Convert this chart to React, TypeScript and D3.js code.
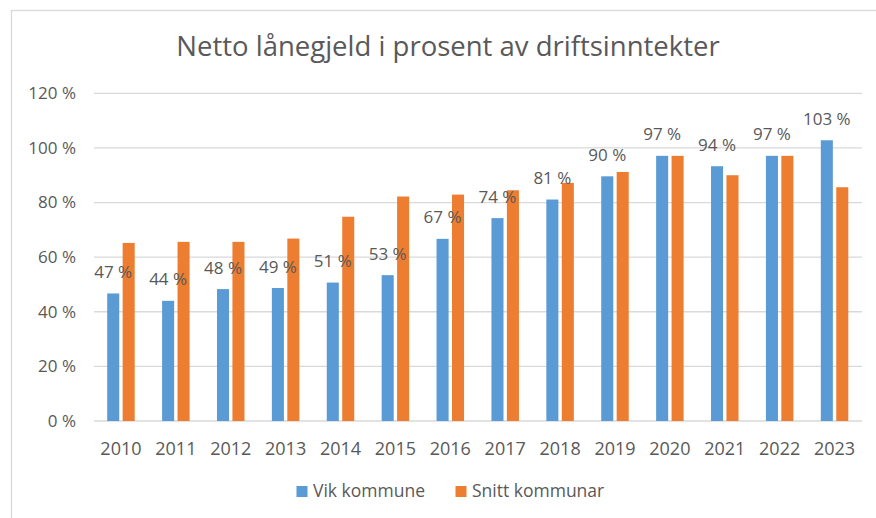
import React from "react";
import * as d3 from "d3";

const years = ["2010","2011","2012","2013","2014","2015","2016","2017","2018","2019","2020","2021","2022","2023"];
const vikValues = [46.7, 44.0, 48.3, 48.7, 50.7, 53.4, 66.7, 74.3, 81.1, 89.6, 97.1, 93.3, 97.1, 102.8];
const vikLabels = ["47 %","44 %","48 %","49 %","51 %","53 %","67 %","74 %","81 %","90 %","97 %","94 %","97 %","103 %"];
const snittValues = [65.2, 65.6, 65.6, 66.8, 74.8, 82.2, 82.9, 84.5, 87.2, 91.2, 97.1, 90.0, 97.1, 85.6];
const seriesNames = ["Vik kommune", "Snitt kommunar"];
const yTicks = [0, 20, 40, 60, 80, 100, 120];
const title = "Netto lånegjeld i prosent av driftsinntekter";

const W = 876, H = 518;
const colors = ["#5B9BD5", "#ED7D31"];
const textColor = "#595959";
const font = "'Open Sans', sans-serif";

export default function App() {
  const x0 = d3.scaleBand<string>().domain(years).range([93.5, 862]).padding(0);
  const groupW = 27.5;
  const x1 = d3.scaleBand<string>().domain(seriesNames).range([0, groupW]).paddingInner(0.22);
  const y = d3.scaleLinear().domain([0, 120]).range([421, 93.3]);
  const gx = (yr: string) => (x0(yr) as number) + x0.bandwidth() / 2 - groupW / 2;
  const data = [vikValues, snittValues];

  return (
    <svg width={W} height={H} style={{ position: "absolute", left: 0, top: 0, background: "#fff" }} fontFamily={font}>
      <rect x={0} y={0} width={W} height={H} fill="#fff" />
      <rect x={11.5} y={10.5} width={1000} height={1000} fill="#fff" stroke="#D9D9D9" strokeWidth={1.3} />
      <text x={448} y={56} textAnchor="middle" fontSize={27.5} fill={textColor}>{title}</text>
      {yTicks.map((t) => (
        <g key={t}>
          <line x1={94} x2={862} y1={y(t)} y2={y(t)} stroke="#D9D9D9" strokeWidth={1.3} />
          <text x={76} y={y(t)} dy="0.35em" textAnchor="end" fontSize={17} fill={textColor}>{`${t} %`}</text>
        </g>
      ))}
      {data.map((vals, si) =>
        years.map((yr, i) => (
          <rect
            key={`${si}-${yr}`}
            x={gx(yr) + (x1(seriesNames[si]) as number)}
            y={y(vals[i])}
            width={x1.bandwidth()}
            height={y(0) - y(vals[i])}
            fill={colors[si]}
          />
        ))
      )}
      {years.map((yr, i) => (
        <text
          key={`lab-${yr}`}
          x={gx(yr) + (x1(seriesNames[0]) as number) + x1.bandwidth() / 2}
          y={y(vikValues[i]) - 15.5}
          textAnchor="middle"
          fontSize={17}
          fill={textColor}
        >
          {vikLabels[i]}
        </text>
      ))}
      {years.map((yr) => (
        <text key={`x-${yr}`} x={(x0(yr) as number) + x0.bandwidth() / 2} y={455} textAnchor="middle" fontSize={18} fill={textColor}>
          {yr}
        </text>
      ))}
      <g>
        <rect x={296.5} y={486} width={11} height={11} fill={colors[0]} />
        <text x={313} y={497} fontSize={17.5} fill={textColor}>{seriesNames[0]}</text>
        <rect x={455.5} y={486} width={11} height={11} fill={colors[1]} />
        <text x={472} y={497} fontSize={17.5} fill={textColor}>{seriesNames[1]}</text>
      </g>
    </svg>
  );
}
